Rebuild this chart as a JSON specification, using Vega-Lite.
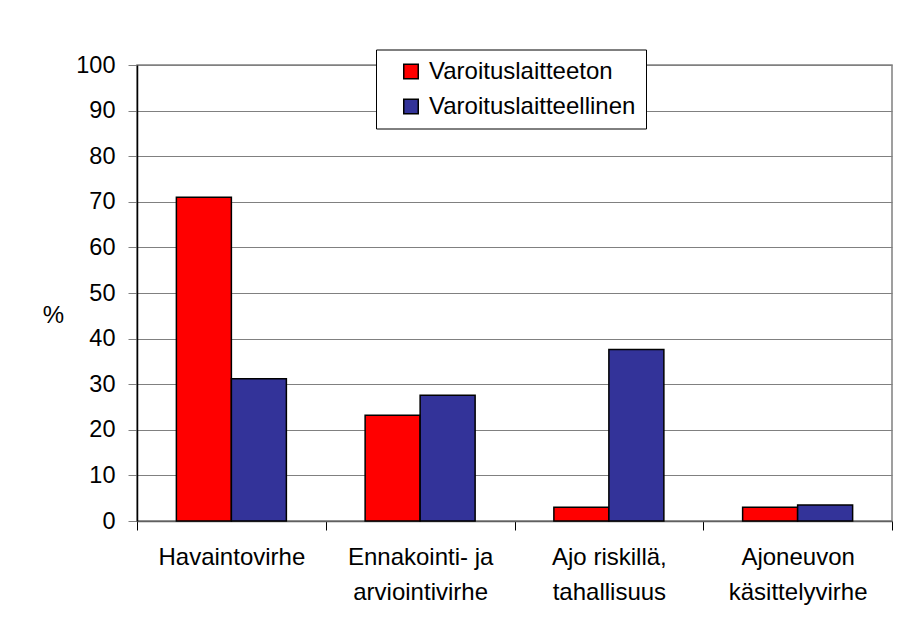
{
  "$schema": "https://vega.github.io/schema/vega-lite/v6.json",
  "width": 755,
  "height": 456,
  "autosize": "none",
  "padding": {"left": 137, "top": 65, "right": 25, "bottom": 98},
  "background": "white",
  "data": {
    "values": [
      {"virhe": "Havaintovirhe", "ryhma": "Varoituslaitteeton", "osuus": 71.0},
      {"virhe": "Havaintovirhe", "ryhma": "Varoituslaitteellinen", "osuus": 31.2},
      {"virhe": "Ennakointi- ja|arviointivirhe", "ryhma": "Varoituslaitteeton", "osuus": 23.2},
      {"virhe": "Ennakointi- ja|arviointivirhe", "ryhma": "Varoituslaitteellinen", "osuus": 27.6},
      {"virhe": "Ajo riskillä,|tahallisuus", "ryhma": "Varoituslaitteeton", "osuus": 3.0},
      {"virhe": "Ajo riskillä,|tahallisuus", "ryhma": "Varoituslaitteellinen", "osuus": 37.6},
      {"virhe": "Ajoneuvon|käsittelyvirhe", "ryhma": "Varoituslaitteeton", "osuus": 3.0},
      {"virhe": "Ajoneuvon|käsittelyvirhe", "ryhma": "Varoituslaitteellinen", "osuus": 3.5}
    ]
  },
  "mark": {"type": "bar", "stroke": "black", "strokeWidth": 1.5},
  "encoding": {
    "x": {
      "field": "virhe",
      "type": "nominal",
      "sort": null,
      "scale": {"paddingInner": 0, "paddingOuter": 0},
      "axis": {
        "title": null,
        "labelAngle": 0,
        "tickBand": "extent",
        "tickSize": 9,
        "tickColor": "black",
        "domainColor": "#606060",
        "domainWidth": 1.5,
        "grid": false,
        "labelExpr": "split(datum.label, '|')",
        "labelBaseline": "top",
        "labelLineHeight": 35,
        "labelPadding": 15,
        "labelFontSize": 24,
        "labelFont": "Liberation Sans",
        "labelColor": "black",
        "labelLimit": 300
      }
    },
    "xOffset": {
      "field": "ryhma",
      "type": "nominal",
      "sort": ["Varoituslaitteeton", "Varoituslaitteellinen"],
      "scale": {"paddingInner": 0, "paddingOuter": 0.716}
    },
    "y": {
      "field": "osuus",
      "type": "quantitative",
      "scale": {"domain": [0, 100], "nice": false},
      "axis": {
        "title": "%",
        "titleAngle": 0,
        "titleX": -84,
        "titleY": 250,
        "titleAlign": "center",
        "titleBaseline": "middle",
        "titleFont": "Liberation Sans",
        "titleFontSize": 24,
        "titleFontWeight": "normal",
        "titleColor": "black",
        "values": [0, 10, 20, 30, 40, 50, 60, 70, 80, 90, 100],
        "tickSize": 9,
        "tickColor": "#808080",
        "domainColor": "black",
        "domainWidth": 1.5,
        "gridColor": "#808080",
        "gridWidth": 1,
        "gridOpacity": 1,
        "labelPadding": 13,
        "labelFontSize": 23.5,
        "labelFont": "Liberation Sans",
        "labelColor": "black"
      }
    },
    "color": {
      "field": "ryhma",
      "type": "nominal",
      "sort": ["Varoituslaitteeton", "Varoituslaitteellinen"],
      "scale": {"domain": ["Varoituslaitteeton", "Varoituslaitteellinen"], "range": ["#FF0000", "#333399"]},
      "legend": {
        "title": null,
        "orient": "none",
        "legendX": 239,
        "legendY": -15.5,
        "direction": "vertical",
        "fillColor": "white",
        "strokeColor": "black",
        "padding": 10,
        "symbolOffset": 13,
        "symbolType": "square",
        "symbolSize": 210,
        "symbolStrokeColor": "black",
        "symbolStrokeWidth": 1.5,
        "symbolOpacity": 1,
        "labelFont": "Liberation Sans",
        "labelFontSize": 24,
        "labelColor": "black",
        "labelOffset": 6,
        "rowPadding": 11,
        "labelLimit": 400
      }
    }
  },
  "config": {
    "view": {"stroke": "#808080", "strokeWidth": 1.5}
  }
}
